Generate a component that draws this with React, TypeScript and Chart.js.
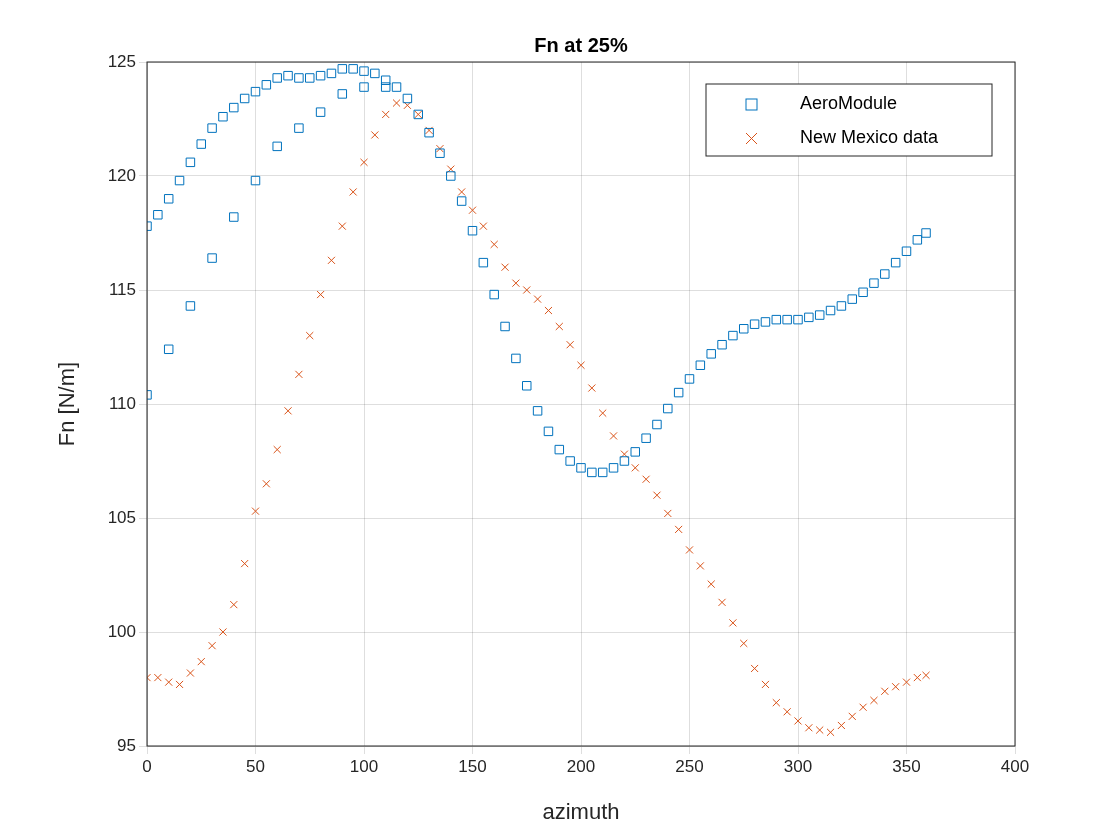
import { useEffect, useRef } from "react";
import { Chart, registerables } from "chart.js";

Chart.register(...registerables);

// AeroModule, settled revolution (azimuth step 5)
const aeroAz = [0, 5, 10, 15, 20, 25, 30, 35, 40, 45, 50, 55, 60, 65, 70, 75, 80, 85, 90, 95, 100, 105, 110, 115, 120, 125, 130, 135, 140, 145, 150, 155, 160, 165, 170, 175, 180, 185, 190, 195, 200, 205, 210, 215, 220, 225, 230, 235, 240, 245, 250, 255, 260, 265, 270, 275, 280, 285, 290, 295, 300, 305, 310, 315, 320, 325, 330, 335, 340, 345, 350, 355, 359];
const aeroFn = [117.8, 118.3, 119.0, 119.8, 120.6, 121.4, 122.1, 122.6, 123.0, 123.4, 123.7, 124.0, 124.3, 124.4, 124.3, 124.3, 124.4, 124.5, 124.7, 124.7, 124.6, 124.5, 124.2, 123.9, 123.4, 122.7, 121.9, 121.0, 120.0, 118.9, 117.6, 116.2, 114.8, 113.4, 112.0, 110.8, 109.7, 108.8, 108.0, 107.5, 107.2, 107.0, 107.0, 107.2, 107.5, 107.9, 108.5, 109.1, 109.8, 110.5, 111.1, 111.7, 112.2, 112.6, 113.0, 113.3, 113.5, 113.6, 113.7, 113.7, 113.7, 113.8, 113.9, 114.1, 114.3, 114.6, 114.9, 115.3, 115.7, 116.2, 116.7, 117.2, 117.5];
// AeroModule, first revolution start-up points
const startAz = [0, 10, 20, 30, 40, 50, 60, 70, 80, 90, 100, 110];
const startFn = [110.4, 112.4, 114.3, 116.4, 118.2, 119.8, 121.3, 122.1, 122.8, 123.6, 123.9, 123.9];
// New Mexico measurement
const nmAz = [0, 5, 10, 15, 20, 25, 30, 35, 40, 45, 50, 55, 60, 65, 70, 75, 80, 85, 90, 95, 100, 105, 110, 115, 120, 125, 130, 135, 140, 145, 150, 155, 160, 165, 170, 175, 180, 185, 190, 195, 200, 205, 210, 215, 220, 225, 230, 235, 240, 245, 250, 255, 260, 265, 270, 275, 280, 285, 290, 295, 300, 305, 310, 315, 320, 325, 330, 335, 340, 345, 350, 355, 359];
const nmFn = [98.0, 98.0, 97.8, 97.7, 98.2, 98.7, 99.4, 100.0, 101.2, 103.0, 105.3, 106.5, 108.0, 109.7, 111.3, 113.0, 114.8, 116.3, 117.8, 119.3, 120.6, 121.8, 122.7, 123.2, 123.1, 122.7, 122.0, 121.2, 120.3, 119.3, 118.5, 117.8, 117.0, 116.0, 115.3, 115.0, 114.6, 114.1, 113.4, 112.6, 111.7, 110.7, 109.6, 108.6, 107.8, 107.2, 106.7, 106.0, 105.2, 104.5, 103.6, 102.9, 102.1, 101.3, 100.4, 99.5, 98.4, 97.7, 96.9, 96.5, 96.1, 95.8, 95.7, 95.6, 95.9, 96.3, 96.7, 97.0, 97.4, 97.6, 97.8, 98.0, 98.1];

const BLUE = "#0072BD";
const ORANGE = "#D95319";
const FONT = "'Liberation Sans', Arial, sans-serif";

const pts = (xs: number[], ys: number[]) => xs.map((x, i) => ({ x, y: ys[i] }));

const frame = {
  id: "frame",
  afterDraw(chart: any) {
    const { ctx, chartArea: a } = chart;
    ctx.save();
    ctx.strokeStyle = "#262626";
    ctx.lineWidth = 1;
    ctx.strokeRect(a.left, a.top, a.right - a.left, a.bottom - a.top);
    // title
    ctx.fillStyle = "#000";
    ctx.font = `bold 20px ${FONT}`;
    ctx.textAlign = "center";
    ctx.textBaseline = "bottom";
    ctx.fillText("Fn at 25%", (a.left + a.right) / 2, a.top - 6);
    // axis titles
    ctx.fillStyle = "#262626";
    ctx.font = `22px ${FONT}`;
    ctx.textBaseline = "middle";
    ctx.fillText("azimuth", (a.left + a.right) / 2, 813);
    ctx.save();
    ctx.translate(68, (a.top + a.bottom) / 2);
    ctx.rotate(-Math.PI / 2);
    ctx.fillText("Fn [N/m]", 0, 0);
    ctx.restore();
    // legend
    const lx = 706, ly = 84, lw = 286, lh = 72;
    ctx.fillStyle = "#fff";
    ctx.fillRect(lx, ly, lw, lh);
    ctx.strokeStyle = "#262626";
    ctx.strokeRect(lx, ly, lw, lh);
    ctx.font = `18px ${FONT}`;
    ctx.textAlign = "left";
    ctx.fillStyle = "#000";
    ctx.fillText("AeroModule", lx + 94, ly + 20);
    ctx.fillText("New Mexico data", lx + 94, ly + 54);
    ctx.strokeStyle = BLUE;
    ctx.strokeRect(lx + 40, ly + 15, 11, 11);
    ctx.strokeStyle = ORANGE;
    ctx.beginPath();
    ctx.moveTo(lx + 40, ly + 49); ctx.lineTo(lx + 51, ly + 60);
    ctx.moveTo(lx + 51, ly + 49); ctx.lineTo(lx + 40, ly + 60);
    ctx.stroke();
    ctx.restore();
  },
};

export default function App() {
  const ref = useRef<HTMLCanvasElement>(null);

  useEffect(() => {
    if (!ref.current) return;
    const marker = { showLine: false, pointBorderWidth: 1, backgroundColor: "transparent", pointBackgroundColor: "transparent" };
    const chart = new Chart(ref.current, {
      type: "scatter",
      data: {
        datasets: [
          { label: "AeroModule", data: pts(aeroAz, aeroFn), pointStyle: "rect", borderColor: BLUE, pointBorderColor: BLUE, pointHoverBorderColor: BLUE, ...marker, pointRadius: 6 },
          { label: "AeroModule start", data: pts(startAz, startFn), pointStyle: "rect", borderColor: BLUE, pointBorderColor: BLUE, pointHoverBorderColor: BLUE, ...marker, pointRadius: 6 },
          { label: "New Mexico data", data: pts(nmAz, nmFn), pointStyle: "crossRot", borderColor: ORANGE, pointBorderColor: ORANGE, pointHoverBorderColor: ORANGE, ...marker, pointRadius: 5 },
        ],
      },
      options: {
        animation: false,
        responsive: false,
        events: [],
        layout: { padding: { top: 62, right: 105, left: 0, bottom: 0 } },
        plugins: { legend: { display: false }, tooltip: { enabled: false } },
        scales: {
          x: {
            min: 0, max: 400,
            ticks: { stepSize: 50, color: "#262626", font: { family: FONT, size: 17 } },
            grid: { color: "rgba(0,0,0,0.13)" },
            afterFit: (s: any) => { s.height = 94; },
          },
          y: {
            min: 95, max: 125,
            ticks: { stepSize: 5, color: "#262626", font: { family: FONT, size: 17 } },
            grid: { color: "rgba(0,0,0,0.13)" },
            afterFit: (s: any) => { s.width = 147; },
          },
        },
      },
      plugins: [frame],
    });
    return () => chart.destroy();
  }, []);

  return (
    <div style={{ position: "absolute", left: 0, top: 0, width: 1120, height: 840, background: "#fff" }}>
      <canvas ref={ref} width={1120} height={840} />
    </div>
  );
}
